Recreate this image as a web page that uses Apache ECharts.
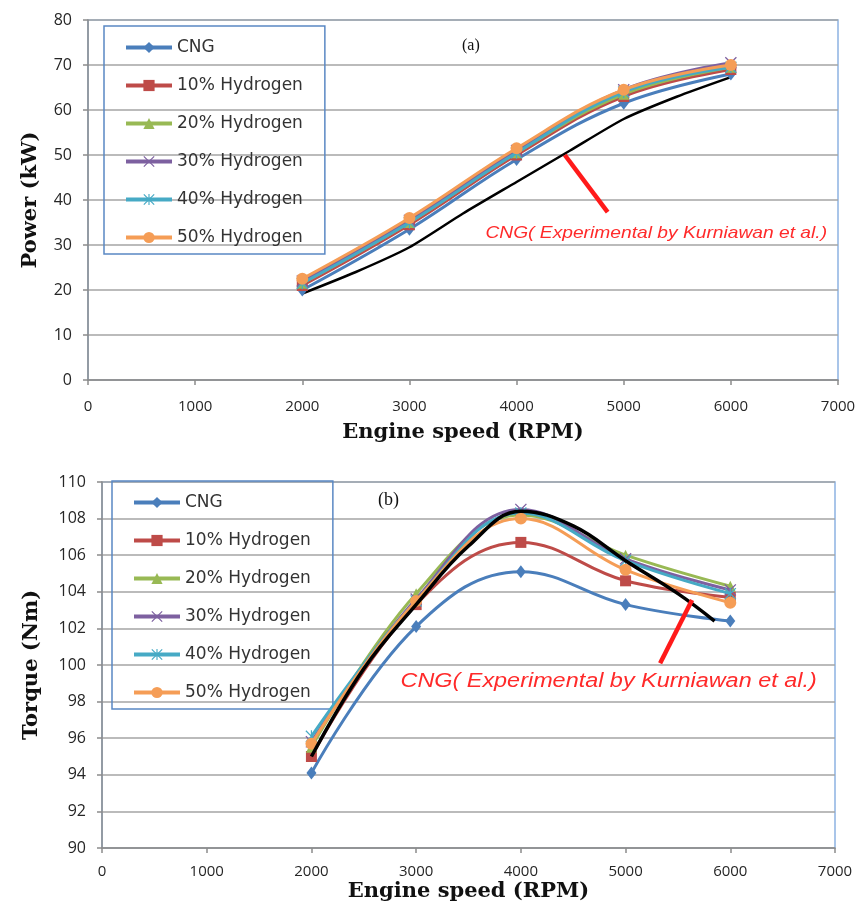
<!DOCTYPE html>
<html>
<head>
<meta charset="utf-8">
<script src="https://cdn.jsdelivr.net/npm/echarts@6/dist/echarts.min.js"></script>
<style>
html,body{margin:0;padding:0;background:#fff;}
#chart{width:860px;height:906px;}
</style>
</head>
<body>
<div id="chart"></div>
<script>
// ---------- data ----------
const rpm = [2000, 3000, 4000, 5000, 6000];
const seriesNames = ['CNG', '10% Hydrogen', '20% Hydrogen', '30% Hydrogen', '40% Hydrogen', '50% Hydrogen'];

// (a) Power (kW)
const powerCNG = [20.0, 33.5, 49.0, 61.5, 68.0];
const power10 = [21.0, 34.5, 50.0, 63.0, 69.0];
const power20 = [21.5, 35.0, 50.5, 63.5, 69.5];
const power30 = [22.0, 35.5, 51.0, 64.5, 70.5];
const power40 = [21.5, 35.0, 50.5, 64.0, 69.5];
const power50 = [22.5, 36.0, 51.5, 64.5, 70.0];
const powerExperimental = [[2000, 19.2], [2500, 24.0], [3000, 29.5], [3500, 37.0], [4000, 44.0], [4500, 51.0], [5000, 58.0], [5500, 63.0], [6000, 67.3]];
const powerPointer = [[4450, 50.0], [4850, 37.3]];

// (b) Torque (Nm)
const torqueCNG = [94.1, 102.1, 105.1, 103.3, 102.4];
const torque10 = [95.0, 103.3, 106.7, 104.6, 103.7];
const torque20 = [95.5, 103.9, 108.2, 106.0, 104.3];
const torque30 = [95.8, 103.6, 108.5, 105.8, 104.1];
const torque40 = [96.1, 103.5, 108.3, 105.7, 103.9];
const torque50 = [95.7, 103.5, 108.0, 105.2, 103.4];
const torqueExperimental = [[2000, 95.0], [2500, 99.8], [3000, 103.3], [3500, 106.5], [4000, 108.4], [4500, 107.6], [5000, 105.7], [5500, 103.9], [5850, 102.4]];
const torquePointer = [[5635, 103.55], [5330, 100.1]];

const xTicks = [0, 1000, 2000, 3000, 4000, 5000, 6000, 7000];

// ---------- styles ----------
const colors = ['#4A7EBB', '#BE4B48', '#98B954', '#7D60A0', '#46AAC5', '#F59D56'];
const xSym = 'path://M0,1.5 L1.5,0 L10,8.5 L18.5,0 L20,1.5 L11.5,10 L20,18.5 L18.5,20 L10,11.5 L1.5,20 L0,18.5 L8.5,10 Z';
const starSym = 'path://M0,1.5 L1.5,0 L10,8.5 L18.5,0 L20,1.5 L11.5,10 L20,18.5 L18.5,20 L10,11.5 L1.5,20 L0,18.5 L8.5,10 Z M9,0 L11,0 L11,20 L9,20 Z';
const symbols = ['diamond', 'rect', 'triangle', xSym, starSym, 'circle'];
const symbolSizes = [[10, 13], 11, 11, 12, 12, 12];

const powerData = [powerCNG, power10, power20, power30, power40, power50];
const torqueData = [torqueCNG, torque10, torque20, torque30, torque40, torque50];

function zip(xs, ys) { return xs.map((x, i) => [x, ys[i]]); }

function makeSeries(dataSets, idx) {
  return dataSets.map((d, i) => ({
    name: seriesNames[i],
    type: 'line',
    xAxisIndex: idx, yAxisIndex: idx,
    data: zip(rpm, d),
    smooth: 0.4,
    symbol: symbols[i],
    symbolSize: symbolSizes[i],
    showAllSymbol: true,
    lineStyle: { width: 3, color: colors[i] },
    itemStyle: { color: colors[i] },
    z: 3 + i
  }));
}

const gridLine = { show: true, lineStyle: { color: '#a4a4a4', width: 1.5 } };
const axisLine = { show: true, lineStyle: { color: '#8c8c8c', width: 1.5 } };
const tickLabel = { color: '#262626', fontSize: 15, fontFamily: 'Open Sans' };
const nameStyle = { color: '#111', fontSize: 21, fontWeight: 'bold', fontFamily: 'DejaVu Serif' };

function legendFor(left, top) {
  return {
    data: seriesNames,
    orient: 'vertical',
    left: left, top: top,
    itemWidth: 46, itemHeight: 14,
    itemGap: 21,
    padding: [13, 22, 8, 20],
    borderColor: '#5A88C4', borderWidth: 1.5,
    backgroundColor: 'transparent',
    lineStyle: { width: 4 },
    textStyle: { color: '#333', fontSize: 17, fontFamily: 'DejaVu Sans' },
    selectedMode: false
  };
}

const option = {
  animation: false,
  backgroundColor: '#ffffff',
  grid: [
    { left: 88, top: 20, width: 750, height: 360, show: true, borderColor: '#8DB3E2', borderWidth: 1.5, backgroundColor: 'transparent' },
    { left: 102, top: 482, width: 733, height: 366, show: true, borderColor: '#8DB3E2', borderWidth: 1.5, backgroundColor: 'transparent' }
  ],
  legend: [legendFor(104, 26), legendFor(112, 481)],
  xAxis: [0, 1].map(i => ({
    gridIndex: i, type: 'value', min: xTicks[0], max: xTicks[xTicks.length - 1], interval: 1000,
    name: 'Engine speed (RPM)', nameLocation: 'middle', nameGap: i === 0 ? 42 : 33,
    nameTextStyle: nameStyle,
    axisLine: axisLine, axisTick: { show: true, length: 5, lineStyle: { color: '#8c8c8c', width: 1.5 } },
    axisLabel: Object.assign({ margin: i === 0 ? 19 : 16, formatter: v => String(v) }, tickLabel),
    splitLine: { show: false }
  })),
  yAxis: [
    { gridIndex: 0, type: 'value', min: 0, max: 80, interval: 10,
      name: 'Power (kW)', nameLocation: 'middle', nameGap: 47, nameTextStyle: nameStyle,
      axisLine: axisLine, axisTick: { show: true, length: 5, lineStyle: { color: '#8c8c8c', width: 1.5 } },
      axisLabel: Object.assign({ margin: 16, fontSize: 16 }, { color: tickLabel.color, fontFamily: tickLabel.fontFamily }), splitLine: gridLine },
    { gridIndex: 1, type: 'value', min: 90, max: 110, interval: 2,
      name: 'Torque (Nm)', nameLocation: 'middle', nameGap: 60, nameTextStyle: nameStyle,
      axisLine: axisLine, axisTick: { show: true, length: 5, lineStyle: { color: '#8c8c8c', width: 1.5 } },
      axisLabel: Object.assign({ margin: 16, fontSize: 16 }, { color: tickLabel.color, fontFamily: tickLabel.fontFamily }), splitLine: gridLine }
  ],
  series: [].concat(
    makeSeries(powerData, 0),
    [{ name: 'CNG Experimental (a)', type: 'line', xAxisIndex: 0, yAxisIndex: 0, data: powerExperimental,
       smooth: 0.2, symbol: 'none', lineStyle: { color: '#000', width: 2.5 }, z: 2 },
     { name: 'pointer (a)', type: 'line', xAxisIndex: 0, yAxisIndex: 0, data: powerPointer,
       symbol: 'none', lineStyle: { color: '#FF1A1A', width: 4.5 }, z: 12 }],
    makeSeries(torqueData, 1),
    [{ name: 'CNG Experimental (b)', type: 'line', xAxisIndex: 1, yAxisIndex: 1, data: torqueExperimental,
       smooth: 0.4, symbol: 'none', lineStyle: { color: '#000', width: 3.5 }, z: 11 },
     { name: 'pointer (b)', type: 'line', xAxisIndex: 1, yAxisIndex: 1, data: torquePointer,
       symbol: 'none', lineStyle: { color: '#FF1A1A', width: 4.5 }, z: 12 }]
  ),
  graphic: [
    { type: 'text', left: 462, top: 38, z: 20, style: { text: '(a)', fill: '#111', font: '16px "Liberation Serif"' } },
    { type: 'text', left: 378, top: 491, z: 20, style: { text: '(b)', fill: '#111', font: '18px "Liberation Serif"' } },
    { type: 'text', x: 482, y: 223, scaleX: 1.13, z: 20, style: { text: 'CNG( Experimental by Kurniawan et al.)', fill: '#FF2A2A',
        font: 'italic 17px "Liberation Sans"', backgroundColor: '#fff', padding: [2, 3] } },
    { type: 'text', x: 397, y: 669, scaleX: 1.17, z: 20, style: { text: 'CNG( Experimental by Kurniawan et al.)', fill: '#FF2A2A',
        font: 'italic 20px "Liberation Sans"', backgroundColor: '#fff', padding: [2, 3] } }
  ]
};

const chart = echarts.init(document.getElementById('chart'), null, { renderer: 'canvas' });
chart.setOption(option);
</script>
</body>
</html>
